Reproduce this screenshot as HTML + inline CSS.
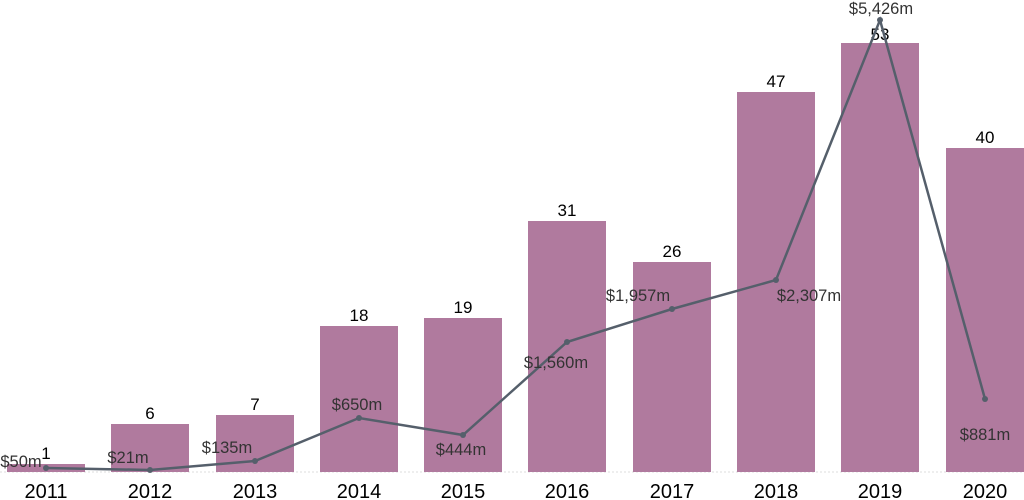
<!DOCTYPE html>
<html><head><meta charset="utf-8"><style>
html,body{margin:0;padding:0;background:#fff;}
svg{display:block;font-family:"Liberation Sans",Arial,sans-serif;}
</style></head><body>
<svg width="1024" height="500" viewBox="0 0 1024 500">
<line x1="0" y1="472" x2="1024" y2="472" stroke="#ddd" stroke-dasharray="2,2"/>
<g fill="#b07a9e">
<rect x="7" y="464" width="78" height="8"/>
<rect x="111" y="424" width="78" height="48"/>
<rect x="216" y="415" width="78" height="57"/>
<rect x="320" y="326" width="78" height="146"/>
<rect x="424" y="318" width="78" height="154"/>
<rect x="528" y="221" width="78" height="251"/>
<rect x="633" y="262" width="78" height="210"/>
<rect x="737" y="92" width="78" height="380"/>
<rect x="841" y="43" width="78" height="429"/>
<rect x="946" y="148" width="78" height="324"/>
</g>
<g font-size="17" fill="#000" text-anchor="middle">
<text x="46" y="459">1</text>
<text x="150" y="419">6</text>
<text x="255" y="410">7</text>
<text x="359" y="321">18</text>
<text x="463" y="313">19</text>
<text x="567" y="216">31</text>
<text x="672" y="257">26</text>
<text x="776" y="87">47</text>
<text x="880" y="40">53</text>
<text x="985" y="143">40</text>
</g>
<polyline fill="none" stroke="#555f6b" stroke-width="2.5" points="46,468 150,470 255,461 359,418 463,435 567,342 672,309 776,280 880,20 985,399"/>
<g fill="#555f6b">
<circle cx="46" cy="468" r="3"/><circle cx="150" cy="470" r="3"/><circle cx="255" cy="461" r="3"/><circle cx="359" cy="418" r="3"/><circle cx="463" cy="435" r="3"/><circle cx="567" cy="342" r="3"/><circle cx="672" cy="309" r="3"/><circle cx="776" cy="280" r="3"/><circle cx="880" cy="20" r="3"/><circle cx="985" cy="399" r="3"/>
</g>
<g font-size="16.5" fill="#333" text-anchor="middle">
<text x="21" y="467">$50m</text>
<text x="128" y="463">$21m</text>
<text x="227" y="453">$135m</text>
<text x="357" y="410">$650m</text>
<text x="461" y="455">$444m</text>
<text x="556" y="368">$1,560m</text>
<text x="638" y="301">$1,957m</text>
<text x="809" y="301">$2,307m</text>
<text x="881" y="14">$5,426m</text>
<text x="985" y="440">$881m</text>
</g>
<g font-size="20" fill="#000" text-anchor="middle">
<text x="46" y="498">2011</text>
<text x="150" y="498">2012</text>
<text x="255" y="498">2013</text>
<text x="359" y="498">2014</text>
<text x="463" y="498">2015</text>
<text x="567" y="498">2016</text>
<text x="672" y="498">2017</text>
<text x="776" y="498">2018</text>
<text x="880" y="498">2019</text>
<text x="985" y="498">2020</text>
</g>
</svg>
</body></html>
